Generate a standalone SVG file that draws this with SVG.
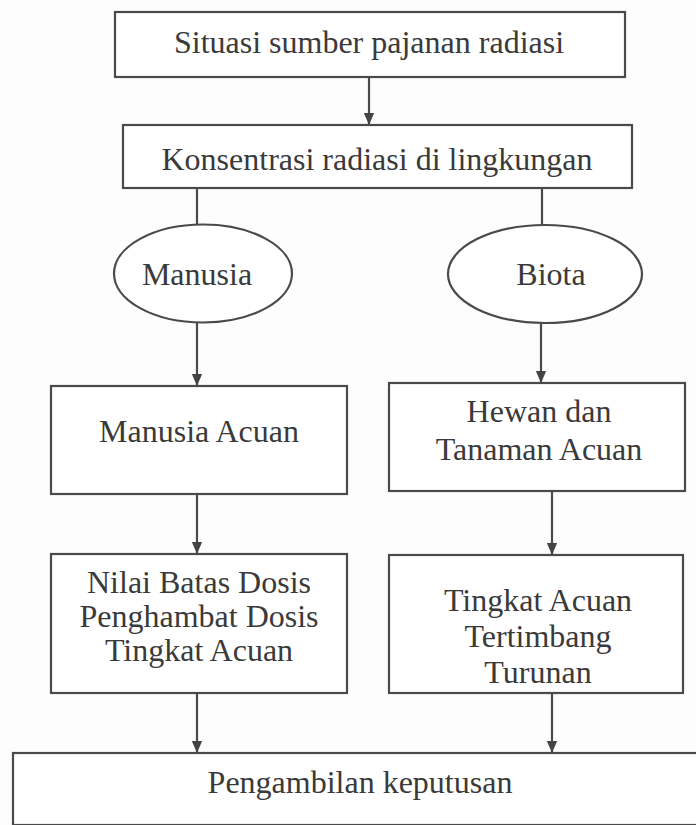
<svg xmlns="http://www.w3.org/2000/svg" width="696" height="825" viewBox="0 0 696 825">
<style>
.box{fill:#fff;stroke:#4a4a4a;stroke-width:2.2}
.t{font-family:"Liberation Serif","Times New Roman",serif;font-size:32px;fill:#3a3a3a;text-anchor:middle}
.c{stroke:#4a4a4a;stroke-width:2.2;fill:none}
.a{marker-end:url(#ah)}
</style>
<defs>
<marker id="ah" markerWidth="12" markerHeight="14" refX="14" refY="6" orient="auto" markerUnits="userSpaceOnUse" viewBox="0 0 14 12">
<path d="M0,0 L14,6 L0,12 Z" fill="#444"/>
</marker>
</defs>
<rect width="696" height="825" fill="#fdfdfd"/>
<g id="connectors">
<path class="c a" d="M369,77 V125"/>
<path class="c" d="M197,188 V225"/>
<path class="c" d="M542,188 V225"/>
<path class="c a" d="M197,322 V386"/>
<path class="c a" d="M541,323 V383"/>
<path class="c a" d="M197,494 V554"/>
<path class="c a" d="M552,491 V555"/>
<path class="c a" d="M197,693 V753"/>
<path class="c a" d="M552,693 V753"/>
</g>
<g id="n1"><rect class="box" x="115" y="12" width="510" height="65"/><text class="t" x="369" y="53">Situasi sumber pajanan radiasi</text></g>
<g id="n2"><rect class="box" x="123" y="125" width="509" height="63"/><text class="t" x="377" y="170">Konsentrasi radiasi di lingkungan</text></g>
<g id="n3"><ellipse class="box" cx="203" cy="273.5" rx="89" ry="49"/><text class="t" x="197" y="285">Manusia</text></g>
<g id="n4"><ellipse class="box" cx="545" cy="274" rx="97" ry="49"/><text class="t" x="551" y="285">Biota</text></g>
<g id="n5"><rect class="box" x="51" y="386" width="296" height="108"/><text class="t" x="199" y="442">Manusia Acuan</text></g>
<g id="n6"><rect class="box" x="389" y="383" width="296" height="108"/><text class="t" x="539" y="422">Hewan dan</text><text class="t" x="539" y="460">Tanaman Acuan</text></g>
<g id="n7"><rect class="box" x="51" y="554" width="296" height="139"/><text class="t" x="199" y="593">Nilai Batas Dosis</text><text class="t" x="199" y="627">Penghambat Dosis</text><text class="t" x="199" y="661">Tingkat Acuan</text></g>
<g id="n8"><rect class="box" x="389" y="555" width="294" height="138"/><text class="t" x="538" y="611">Tingkat Acuan</text><text class="t" x="538" y="647">Tertimbang</text><text class="t" x="538" y="683">Turunan</text></g>
<g id="n9"><rect class="box" x="13" y="753" width="700" height="72"/><text class="t" x="360" y="793">Pengambilan keputusan</text></g>
</svg>
